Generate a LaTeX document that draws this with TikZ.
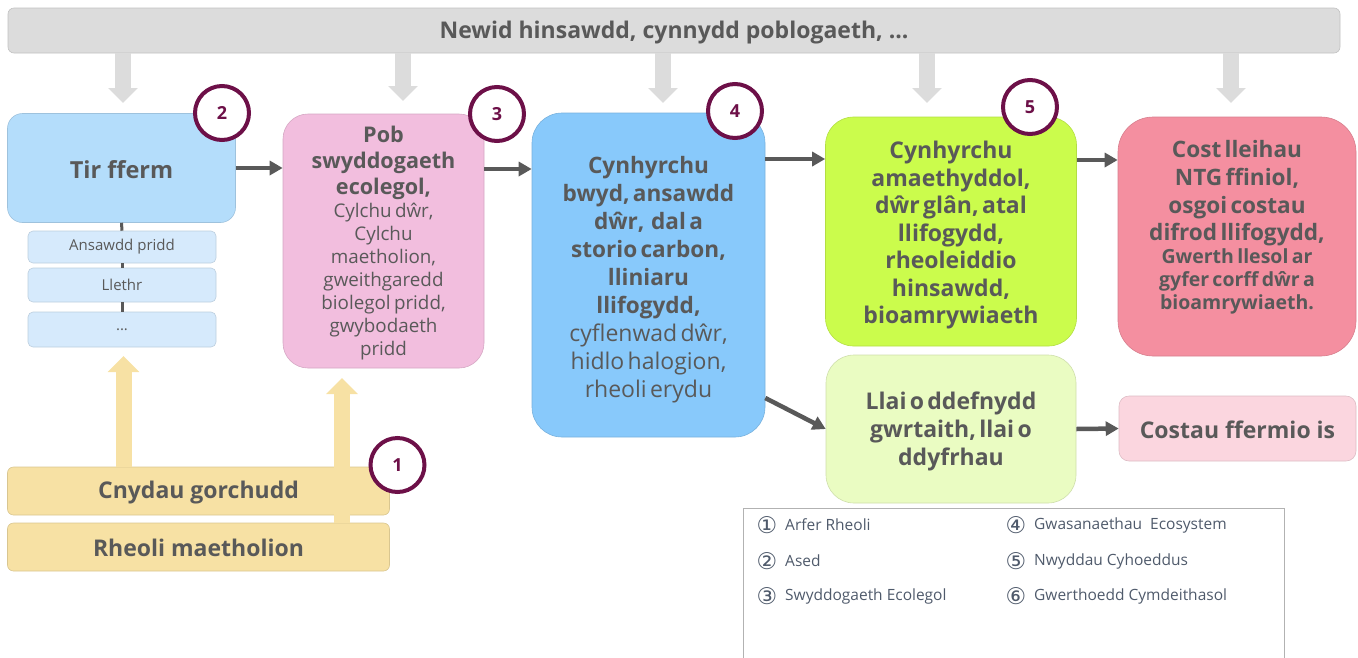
\documentclass[tikz,border=0pt]{standalone}
\usepackage{fontspec}
\setmainfont{Open Sans}
\newfontfamily\symfont{DejaVu Sans}
\usetikzlibrary{arrows.meta,calc}
\definecolor{txt}{HTML}{595959}
\definecolor{barc}{HTML}{DCDCDC}
\definecolor{tirc}{HTML}{B4DDFB}
\definecolor{subc}{HTML}{D6EAFC}
\definecolor{pinkc}{HTML}{F2BEDE}
\definecolor{bluec}{HTML}{88C9FB}
\definecolor{greenc}{HTML}{CBFC4C}
\definecolor{redc}{HTML}{F48FA0}
\definecolor{lgreenc}{HTML}{EAFCC2}
\definecolor{lpinkc}{HTML}{FBD6DF}
\definecolor{yelc}{HTML}{F7E1A4}
\definecolor{purp}{HTML}{6D1048}
\definecolor{legc}{HTML}{4F5A6B}
\definecolor{darr}{HTML}{595959}
\begin{document}
\begin{tikzpicture}[x=1pt,y=-1pt,
  box/.style={inner sep=0pt, draw=#1!88!black, line width=0.6pt, fill=#1},
  tx/.style={inner sep=0pt, align=center, text=txt},
  num/.style={circle, draw=purp, line width=4pt, fill=white, minimum size=54pt, inner sep=0pt,
              text=purp, font=\fontsize{18}{18}\selectfont\bfseries},
  garrow/.style={barc, line width=16pt, -{Triangle[width=29pt,length=15pt]}},
  yarrow/.style={yelc, line width=16pt, -{Triangle[width=31pt,length=16pt]}},
  darrow/.style={darr, line width=4.5pt, -{Triangle[width=14pt,length=13pt]}},
  subline/.style={darr, line width=3pt},
  legsym/.style={text=legc, font=\symfont\fontsize{23}{23}\selectfont, inner sep=0pt},
  legtxt/.style={text=legc, font=\fontsize{15.5}{15.5}\selectfont, anchor=west, inner sep=0pt},
]
\useasboundingbox (0,0) rectangle (1358,657);

% top bar
\node[box=barc, rounded corners=6pt, minimum width=1332pt, minimum height=45pt] (bar) at (674,30.5) {};
\node[tx, font=\fontsize{23}{23}\selectfont\bfseries] (bart) at ([yshift=-2pt]bar.center) {Newid hinsawdd, cynnydd poblogaeth, ...};

% gray arrows
\coordinate (g1) at (123,103);
\coordinate (g2) at (403,101);
\coordinate (g3) at (663,103);
\coordinate (g4) at (927,103);
\coordinate (g5) at (1231,103);
\foreach \g in {g1,g2,g3,g4,g5}{\draw[garrow] (bar.south -| \g) -- (\g);}

% boxes
\node[box=tirc, rounded corners=15pt, minimum width=228pt, minimum height=109pt] (tir) at (121.5,168) {};
\node[tx, font=\fontsize{23.5}{23.5}\selectfont\bfseries] (tirt) at ([yshift=-1.5pt]tir.center) {Tir fferm};

\node[box=subc, rounded corners=5pt, minimum width=188pt, minimum height=32pt] (s1) at (122,247) {};
\node[tx, font=\fontsize{15}{15}\selectfont] (s1t) at (s1.center) {Ansawdd pridd};
\node[box=subc, rounded corners=5pt, minimum width=188pt, minimum height=34pt] (s2) at (122,285) {};
\node[tx, font=\fontsize{15}{15}\selectfont] (s2t) at (s2.center) {Llethr};
\node[box=subc, rounded corners=5pt, minimum width=188pt, minimum height=35pt] (s3) at (122,329.5) {};
\node[tx, font=\fontsize{15}{15}\selectfont] (s3t) at (s3.center) {...};
\draw[subline] (tir.south) -- (s1.north);
\draw[subline] (s1.south) -- (s2.north);
\draw[subline] (s2.south) -- (s3.north);

\node[box=pinkc, rounded corners=25pt, minimum width=201pt, minimum height=254pt] (pink) at (383.5,241) {};
\node[tx, text width=197pt] (pinkt) at ([yshift=-2pt]pink.center)
  {{\fontsize{21.6}{26}\selectfont\bfseries Pob\\ swyddogaeth\\ ecolegol,\par}
   {\fontsize{18.8}{23}\selectfont Cylchu dŵr,\\ Cylchu\\ maetholion,\\ gweithgaredd\\ biolegol pridd,\\ gwybodaeth\\ pridd\par}};

\node[box=bluec, rounded corners=30pt, minimum width=233pt, minimum height=324pt] (blue) at (648.5,275) {};
\node[tx, text width=229pt] (bluet) at ([yshift=-4.5pt]blue.center)
  {{\fontsize{22.6}{28}\selectfont\bfseries Cynhyrchu\\ bwyd, ansawdd\\ dŵr,\ \ dal a\\ storio carbon,\\ lliniaru\\ llifogydd,\par}
   {\fontsize{23}{28}\selectfont cyflenwad dŵr,\\ hidlo halogion,\\ rheoli erydu\par}};

\node[box=greenc, rounded corners=28pt, minimum width=251pt, minimum height=229pt] (green) at (951,231.5) {};
\node[tx, text width=247pt] (greent) at ([yshift=-4pt]green.center)
  {{\fontsize{23}{27.5}\selectfont\bfseries Cynhyrchu\\ amaethyddol,\\ dŵr glân, atal\\ llifogydd,\\ rheoleiddio\\ hinsawdd,\\ bioamrywiaeth\par}};

\node[box=redc, rounded corners=35pt, minimum width=238pt, minimum height=239pt] (red) at (1237,236.5) {};
\node[tx, text width=234pt] (redt) at ([yshift=9pt]red.center)
  {{\fontsize{22.6}{27.5}\selectfont\bfseries Cost lleihau\\ NTG ffiniol,\\ osgoi costau\\ difrod llifogydd,\par}
   {\fontsize{19.5}{23}\selectfont\bfseries Gwerth llesol ar\\ gyfer corff dŵr a\\ bioamrywiaeth.\par}};

\node[box=lgreenc, rounded corners=28pt, minimum width=250pt, minimum height=148pt] (lgreen) at (951,429) {};
\node[tx, text width=246pt] (lgreent) at ([yshift=-2.5pt]lgreen.center)
  {{\fontsize{23}{28}\selectfont\bfseries Llai o ddefnydd\\ gwrtaith, llai o\\ ddyfrhau\par}};

\node[box=lpinkc, rounded corners=10pt, minimum width=237pt, minimum height=65pt] (lpink) at (1237.5,428.5) {};
\node[tx, font=\fontsize{23}{23}\selectfont\bfseries] (lpinkt) at ([yshift=-1pt]lpink.center) {Costau ffermio is};

\node[box=yelc, rounded corners=6pt, minimum width=382pt, minimum height=48pt] (cnyd) at (198.5,491) {};
\node[tx, font=\fontsize{23}{23}\selectfont\bfseries] (cnydt) at ([yshift=-2pt]cnyd.center) {Cnydau gorchudd};
\node[box=yelc, rounded corners=6pt, minimum width=382pt, minimum height=48pt] (rheo) at (198.5,547) {};
\node[tx, font=\fontsize{23}{23}\selectfont\bfseries] (rheot) at ([yshift=-1pt]rheo.center) {Rheoli maetholion};

% yellow arrows
\coordinate (y1) at (123.5,356);
\coordinate (y2) at (342,378);
\draw[yarrow] (cnyd.north -| y1) -- (y1);
\draw[yarrow] (rheo.north -| y2) -- (y2);

% dark arrows
\coordinate (a4) at (0,159);
\coordinate (a5) at (0,160);
\coordinate (d1) at (0,398);
\draw[darrow] (tir.east) -- (tir.east -| pink.west);
\draw[darrow] (pink.east |- 0,169) -- (blue.west |- 0,169);
\draw[darrow] (blue.east |- a4) -- (green.west |- a4);
\draw[darrow] (green.east |- a5) -- (red.west |- a5);
\draw[darrow] (blue.east |- d1) -- (lgreen.west);
\draw[darrow] (lgreen.east) -- (lpink.west);

% number circles
\node[num] (c1) at (397.5,465) {1};
\node[num] (c2) at (222,113) {2};
\node[num] (c3) at (497,114) {3};
\node[num] (c4) at (735,111) {4};
\node[num] (c5) at (1030,107) {5};

% legend
\draw[draw=black!30, line width=1pt] (743,660) -- (743,508) -- (1284,508) -- (1284,660);
\node[legsym] (l1s) at (767,525) {①};
\node[legtxt] (l1t) at (785,525) {Arfer Rheoli};
\node[legsym] (l2s) at (767,561) {②};
\node[legtxt] (l2t) at (785,561) {Ased};
\node[legsym] (l3s) at (767,596) {③};
\node[legtxt] (l3t) at (785,596) {Swyddogaeth Ecolegol};
\node[legsym] (l4s) at (1016,525) {④};
\node[legtxt] (l4t) at (1034,525) {Gwasanaethau\ \ Ecosystem};
\node[legsym] (l5s) at (1016,561) {⑤};
\node[legtxt] (l5t) at (1034,561) {Nwyddau Cyhoeddus};
\node[legsym] (l6s) at (1016,596) {⑥};
\node[legtxt] (l6t) at (1034,596) {Gwerthoedd Cymdeithasol};
\end{tikzpicture}
\end{document}
